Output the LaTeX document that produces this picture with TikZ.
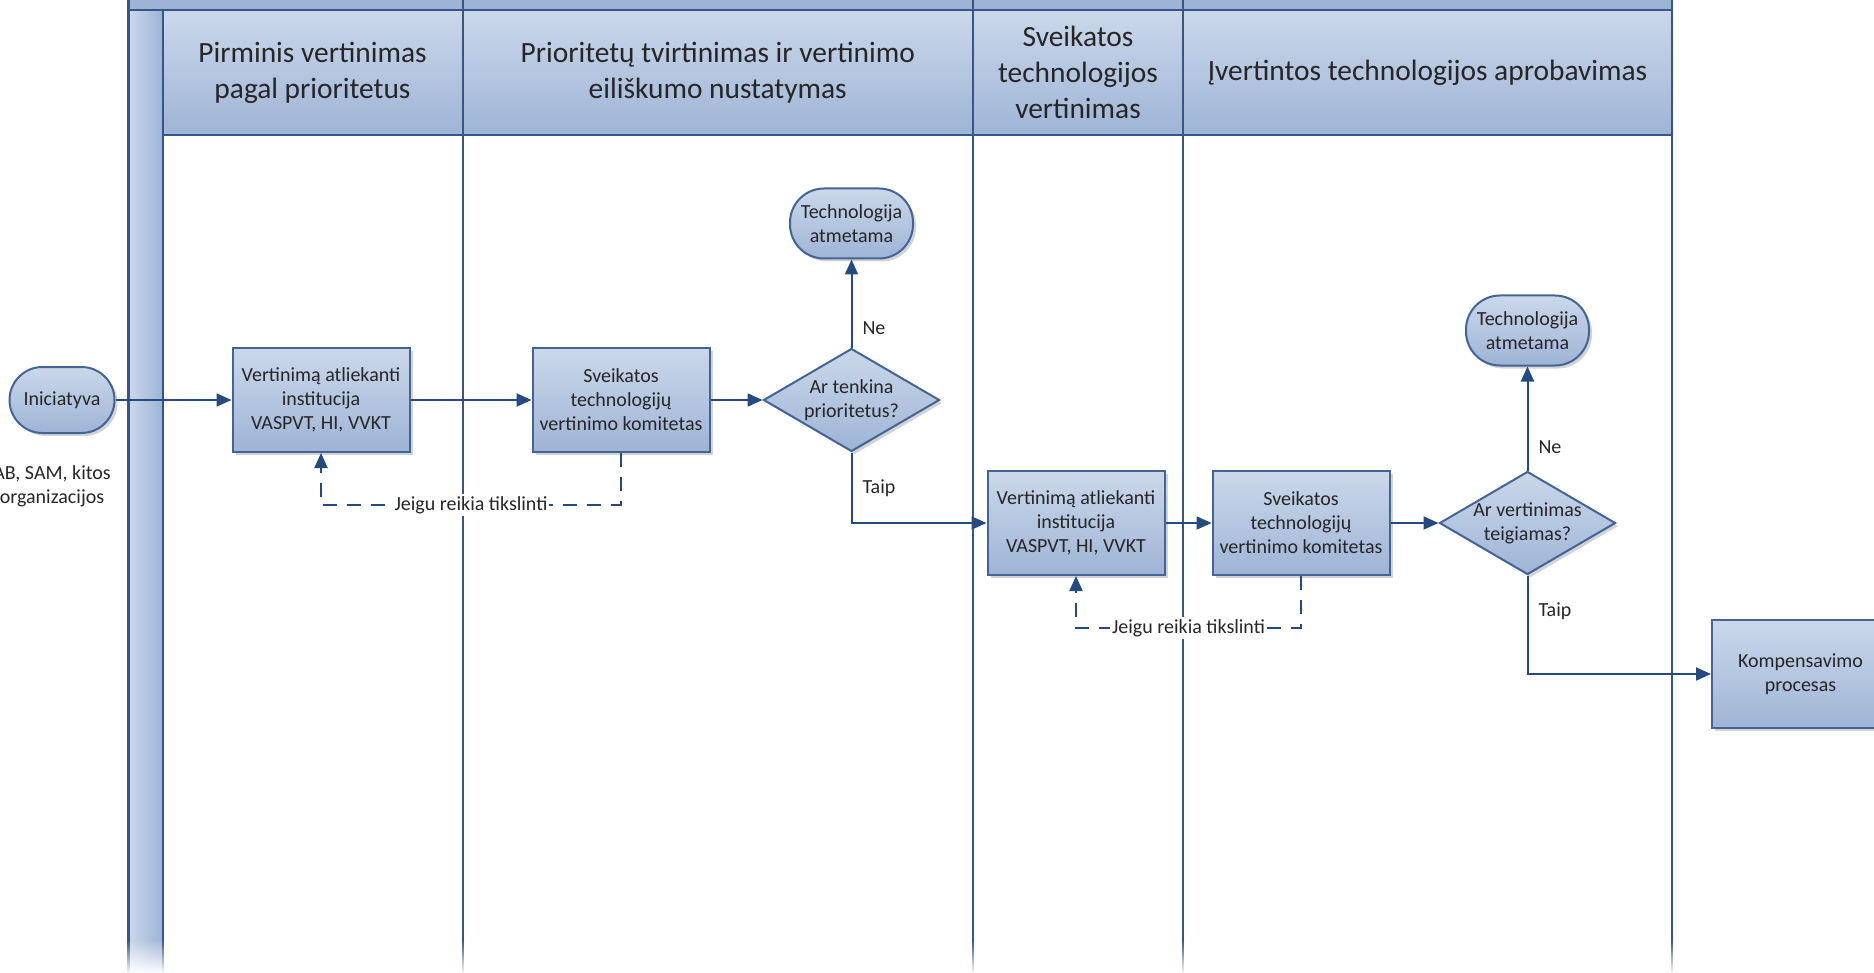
\documentclass[tikz,border=0pt]{standalone}
\usepackage{fontspec}
\setmainfont{Carlito}
\usetikzlibrary{%
  positioning,
  shapes.geometric,
  shadows,
  fadings,
  arrows.meta,
}

\definecolor{linkblue}{RGB}{36,74,128}
\definecolor{frameblue}{RGB}{66,101,150}
\definecolor{laneblue}{RGB}{52,86,136}
\definecolor{filltop}{RGB}{203,216,234}
\definecolor{fillbottom}{RGB}{158,180,214}
\definecolor{textgray}{RGB}{38,38,38}

\begin{document}
\begin{tikzpicture}[%
           x=0.5pt, y=-0.5pt,
           font=\fontsize{10}{12}\selectfont,
           text=textgray,
           shapebase/.style={
             % The border:
             draw=frameblue,
             line width=1pt,
             % The filling, light at the top and darker at the bottom:
             top color=filltop,
             bottom color=fillbottom,
             drop shadow={shadow xshift=1.5pt, shadow yshift=-1.5pt, opacity=0.35},
             align=center,
             inner sep=0pt,
           },
           process/.style={
             shapebase,
             rectangle,
             minimum width=88.5pt,
             minimum height=52pt,
           },
           terminal/.style={
             shapebase,
             rectangle,
             rounded corners=17pt,
             minimum width=61.5pt,
             minimum height=35pt,
           },
           decision/.style={
             shapebase,
             diamond,
             shape aspect=1.7,
             inner xsep=-3pt,
             inner ysep=-2pt,
             minimum width=88pt,
             minimum height=51.5pt,
           },
           lanehead/.style={
             draw=frameblue,
             line width=0.8pt,
             top color=filltop,
             bottom color=fillbottom,
             minimum height=62.5pt,
             align=center,
             inner sep=0pt,
             text=black!85,
             font=\fontsize{14.7}{18}\selectfont,
           },
           flow/.style={
             -{Triangle[length=7.5pt,width=6.5pt]},
             draw=linkblue,
             line width=1pt,
           },
           feedback/.style={
             flow,
             dash pattern=on 7pt off 5pt,
           },
           answer/.style={
             right=4pt,
             inner sep=1pt,
           },
         ]
  \useasboundingbox (0,0) rectangle (1874,973);

  % pool frame and lane headers
  \fill[fillbottom] (128,0) rectangle (1672,10);
  \shade[left color=filltop, right color=fillbottom] (128,10) rectangle (162.5,973);
  \node[lanehead, minimum width=150pt] (hdrA) at (312.5,72.5) {Pirminis vertinimas\\pagal prioritetus};
  \node[lanehead, minimum width=255.25pt] (hdrB) at (717.75,72.5) {Prioritetų tvirtinimas ir vertinimo\\eiliškumo nustatymas};
  \node[lanehead, minimum width=105pt] (hdrC) at (1078,72.5) {Sveikatos\\technologijos\\vertinimas};
  \node[lanehead, minimum width=244.5pt] (hdrD) at (1427.5,72.5) {Įvertintos technologijos aprobavimas};
  \draw[laneblue, line width=1.5pt] (128,0) -- (128,973);
  \draw[laneblue, line width=1pt] (162.5,10) -- (162.5,973);
  \draw[laneblue, line width=1.2pt] (128,10) -- (1672,10);
  \draw[laneblue, line width=1.2pt] (162.5,135) -- (1672,135);
  \foreach \lx in {462.5,973,1183,1672} {
    \draw[laneblue, line width=1pt] (\lx,0) -- (\lx,973);
  }
  \fill[white, path fading=north] (100,940) rectangle (1700,974);

  % first row
  \node[terminal, minimum width=52.5pt, minimum height=33pt, rounded corners=16.5pt] (iniciatyva) at (62,400) {Iniciatyva};
  \node[align=center] (iniciatoriai) at (52,486) {AB, SAM, kitos\\organizacijos};
  \node[process] (instit1) [right=58pt of iniciatyva] {Vertinimą atliekanti\\institucija\\VASPVT, HI, VVKT};
  \node[process] (komitet1) [right=60.5pt of instit1] {Sveikatos\\technologijų\\vertinimo komitetas};
  \node[decision] (prior) [right=26pt of komitet1] {Ar tenkina\\prioritetus?};
  \node[terminal] (atmest1) [above=44pt of prior] {Technologija\\atmetama};

  % second row
  \node[process] (instit2) at (1076,523) {Vertinimą atliekanti\\institucija\\VASPVT, HI, VVKT};
  \node[process] (komitet2) [right=23pt of instit2] {Sveikatos\\technologijų\\vertinimo komitetas};
  \node[decision] (teig) [right=24pt of komitet2] {Ar vertinimas\\teigiamas?};
  \node[terminal] (atmest2) [above=52pt of teig] {Technologija\\atmetama};
  \node[process, minimum height=54pt] (kompens) at (1800.5,674) {Kompensavimo\\procesas};

  % connectors
  \draw[flow] (iniciatyva) -- (instit1);
  \draw[flow] (instit1) -- (komitet1);
  \draw[flow] (komitet1) -- (prior);
  \draw[flow] (prior.north) -- node[answer, pos=0.22] {Ne} (atmest1.south);
  \draw[flow] (prior.south) |- node[answer, pos=0.25] {Taip} (instit2.west);
  \draw[feedback] (komitet1.south) -- ++(0,52) -| node[pos=0.25, fill=white, inner sep=1pt] {Jeigu reikia tikslinti} (instit1.south);

  \draw[flow] (instit2) -- (komitet2);
  \draw[flow] (komitet2) -- (teig);
  \draw[flow] (teig.north) -- node[answer, pos=0.22] {Ne} (atmest2.south);
  \draw[flow] (teig.south) |- node[answer, pos=0.18] {Taip} (kompens.west);
  \draw[feedback] (komitet2.south) -- ++(0,52) -| node[pos=0.25, fill=white, inner sep=1pt] {Jeigu reikia tikslinti} (instit2.south);
\end{tikzpicture}
\end{document}
